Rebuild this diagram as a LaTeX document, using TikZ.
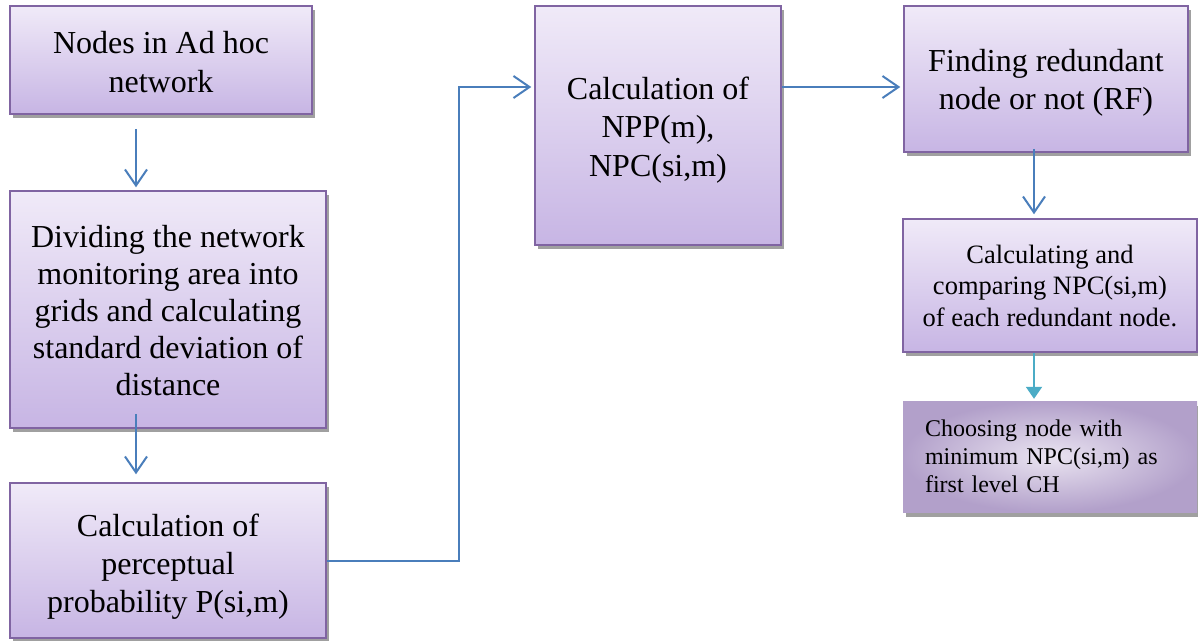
\documentclass[tikz,border=0pt]{standalone}
\usepackage{fontspec}
\setmainfont{Liberation Serif}
\usetikzlibrary{arrows.meta,shadows,calc}
\definecolor{boxtop}{RGB}{240,234,248}
\definecolor{boxbot}{RGB}{199,181,228}
\definecolor{boxline}{RGB}{128,100,162}
\definecolor{arrblue}{RGB}{74,126,187}
\definecolor{arrteal}{RGB}{75,172,198}
\definecolor{shadowgray}{RGB}{160,160,160}
\definecolor{gin}{RGB}{234,228,241}
\definecolor{gout}{RGB}{178,160,202}
\newcommand{\toppad}[1]{\rule{0pt}{#1}}
\begin{document}
\begin{tikzpicture}[x=1pt,y=-1pt,
  flowbox/.style={draw=boxline, line width=1.5pt, top color=boxtop, bottom color=boxbot,
    align=center, inner sep=0pt, font=\fontsize{32}{37}\selectfont,
    drop shadow={shadow xshift=3pt, shadow yshift=-4pt, fill=shadowgray, opacity=1}},
  softbox/.style={draw=none, shading=radial, inner color=gin, outer color=gout,
    align=left, inner ysep=0pt, inner xsep=22pt, text width=250pt,
    font=\fontsize{24}{28}\selectfont,
    drop shadow={shadow xshift=3pt, shadow yshift=-5pt, fill=shadowgray, opacity=1}},
  arr/.style={draw=arrblue, line width=2pt, -{Straight Barb[length=16pt,width=22pt]}},
  tarr/.style={draw=arrteal, line width=2pt, -{Triangle[length=12pt,width=16pt]}}]
\useasboundingbox (0,0) rectangle (1198,640);

\node[flowbox, minimum width=302pt, minimum height=108pt, font=\fontsize{32}{39}\selectfont] (A) at (161,60)
  {\toppad{27pt}Nodes in Ad hoc\\network};
\node[flowbox, minimum width=316pt, minimum height=237pt] (B) at (168,309.5)
  {\toppad{25pt}Dividing the network\\monitoring area into\\grids and calculating\\standard deviation of\\distance};
\node[flowbox, minimum width=316pt, minimum height=155pt, font=\fontsize{32}{38}\selectfont] (C) at (168,560.5)
  {\toppad{35pt}Calculation of\\perceptual\\probability P(si,m)};
\node[flowbox, minimum width=246pt, minimum height=239pt, font=\fontsize{32}{38.5}\selectfont] (D) at (658,125.5)
  {\toppad{31pt}Calculation of\\NPP(m),\\NPC(si,m)};
\node[flowbox, minimum width=284pt, minimum height=146pt, font=\fontsize{32}{38}\selectfont] (E) at (1046,79)
  {\toppad{30pt}Finding redundant\\node or not (RF)};
\node[flowbox, minimum width=294pt, minimum height=133pt, font=\fontsize{26.5}{31.5}\selectfont] (F) at (1050,285.5)
  {Calculating and\\comparing NPC(si,m)\\of each redundant node.};
\node[softbox, minimum width=294pt, minimum height=111pt] (G) at (1050,456.5)
  {Choosing node with\\minimum NPC(si,m) as\\first level CH};

\coordinate (cl) at (136,0);
\coordinate (cr) at (1034,0);
\coordinate (jog) at (459,87);

\draw[arr] ($(A.south -| cl)+(0,14)$) -- ($(B.north -| cl)+(0,-3)$);
\draw[arr] ($(B.south -| cl)+(0,-15)$) -- ($(C.north -| cl)+(0,-8)$);
\draw[arr] (C.east) -| (jog) -- ($(jog -| D.west)+(-3,0)$);
\draw[arr] (D.east |- jog) -- ($(E.west |- jog)+(-3,0)$);
\draw[arr] ($(E.south -| cr)+(0,-4)$) -- ($(F.north -| cr)+(0,-4)$);
\draw[tarr] (F.south -| cr) -- ($(G.north -| cr)+(0,-2)$);
\end{tikzpicture}
\end{document}
